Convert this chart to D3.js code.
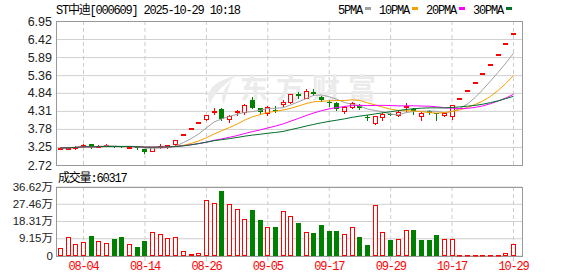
<!DOCTYPE html>
<html>
<head>
<meta charset="utf-8">
<script src="https://cdn.jsdelivr.net/npm/d3@7"></script>
<style>
body { margin: 0; background: #fff; }
svg { display: block; }
.mono { font-family: "Liberation Mono", "Noto Sans CJK SC", monospace; font-size: 12px; letter-spacing: -1.2px; }
.ax { font-family: "Liberation Sans", "Noto Sans CJK SC", sans-serif; fill: #222; }
</style>
</head>
<body>
<div id="chart"></div>
<script>
// trading days shown (07-30 .. 10-29)
const dates = ["07-30","07-31","08-01","08-04","08-05","08-06","08-07","08-08","08-11","08-12",
  "08-13","08-14","08-15","08-18","08-19","08-20","08-21","08-22","08-25","08-26",
  "08-27","08-28","08-29","09-01","09-02","09-03","09-04","09-05","09-08","09-09",
  "09-10","09-11","09-12","09-15","09-16","09-17","09-18","09-19","09-22","09-23",
  "09-24","09-25","09-26","09-29","09-30","10-09","10-10","10-13","10-14","10-15",
  "10-16","10-17","10-20","10-21","10-22","10-23","10-24","10-27","10-28","10-29"];

const opens = [3.22,3.22,3.21,3.29,3.33,3.27,3.29,3.28,3.27,3.22,
  3.24,3.18,3.14,3.27,3.27,3.33,3.62,3.80,3.99,4.06,
  4.28,4.37,4.08,4.27,4.27,4.62,4.38,4.25,4.35,4.50,
  4.57,4.80,4.70,4.86,4.71,4.58,4.54,4.31,4.41,4.49,
  4.14,3.95,4.13,4.23,4.18,4.41,4.37,4.15,4.31,4.24,
  4.18,4.15,4.69,4.92,5.17,5.43,5.70,5.99,6.29,6.60];
const closes = [3.22,3.23,3.26,3.31,3.24,3.29,3.30,3.26,3.25,3.26,
  3.21,3.10,3.24,3.29,3.30,3.45,3.62,3.80,3.99,4.19,
  4.31,4.08,4.17,4.30,4.49,4.40,4.28,4.43,4.33,4.58,
  4.81,4.74,4.89,4.82,4.62,4.55,4.37,4.42,4.55,4.38,
  4.10,4.15,4.23,4.21,4.27,4.44,4.31,4.26,4.25,4.22,
  4.26,4.47,4.69,4.92,5.17,5.43,5.70,5.99,6.29,6.60];
const highs = [3.24,3.24,3.27,3.35,3.34,3.31,3.33,3.29,3.28,3.27,
  3.25,3.20,3.25,3.33,3.32,3.46,3.62,3.80,3.99,4.19,
  4.40,4.40,4.19,4.35,4.50,4.71,4.40,4.45,4.44,4.62,
  4.82,4.86,4.95,4.94,4.75,4.62,4.56,4.45,4.58,4.50,
  4.19,4.16,4.25,4.24,4.33,4.55,4.40,4.28,4.35,4.25,
  4.27,4.47,4.69,4.92,5.17,5.43,5.70,5.99,6.29,6.60];
const lows = [3.20,3.21,3.20,3.25,3.22,3.24,3.28,3.25,3.24,3.21,
  3.20,3.08,3.12,3.21,3.23,3.32,3.62,3.80,3.99,4.03,
  4.22,4.05,3.99,4.20,4.21,4.38,4.25,4.20,4.28,4.44,
  4.54,4.70,4.68,4.78,4.60,4.45,4.35,4.26,4.38,4.36,
  4.05,3.91,4.05,4.19,4.15,4.30,4.23,4.05,4.22,4.05,
  4.15,4.07,4.69,4.92,5.17,5.43,5.70,5.99,6.29,6.60];
// volume in 万
const volumes = [3.8,9.6,6.1,7.3,10.3,7.6,6.4,8.7,9.6,5.9,
  4.3,7.6,12.4,11.2,9.1,9.6,2.4,0.8,1.2,29.6,
  28.0,34.0,27.1,24.9,19.6,24.0,18.7,14.9,15.0,23.4,
  21.2,17.3,12.4,11.9,16.1,13.1,13.1,11.3,14.9,9.7,
  5.5,26.6,12.4,8.2,9.0,13.4,13.4,8.2,8.2,10.8,
  9.0,8.7,0.5,0.4,0.5,0.4,0.5,0.5,1.5,6.03];

const priceTicks = [6.95,6.42,5.89,5.36,4.84,4.31,3.78,3.25,2.72];
const volTicks = [0,9.15,18.31,27.46,36.62];
const dateTicks = ["08-04","08-14","08-26","09-05","09-17","09-29","10-17","10-29"];
const maPeriods = [5,10,20,30];
const maColors = ["#a0a0a0","#f5a000","#ff00ff","#00702a"];

const title = "ST中迪[000609] 2025-10-29 10:18";
const volTitle = "成交量:60317";

const W = 578, H = 276;
const left = 56, right = 522;
const pTop = 21, pBot = 165, vTop = 186.5, vBot = 255.5;
const RED = "#ff0000", GREEN = "#008000";

const svg = d3.select("#chart").append("svg").attr("width", W).attr("height", H);

const x = d3.scaleLinear().domain([0, dates.length - 1]).range([60, 513]);
const yP = d3.scaleLinear().domain([2.72, 6.95]).range([pBot, pTop]);
const yV = d3.scaleLinear().domain([0, 36.62]).range([vBot, vTop]);
const tickIdx = dateTicks.map(d => dates.indexOf(d));

// horizontal grid
svg.append("g").attr("transform", `translate(${left},0)`)
  .call(d3.axisLeft(yP).tickValues(priceTicks).tickSize(-(right - left)).tickFormat(""))
  .call(g => g.select(".domain").remove())
  .selectAll("line").attr("stroke", "#d0d0d0");
svg.append("g").attr("transform", `translate(${left},0)`)
  .call(d3.axisLeft(yV).tickValues(volTicks).tickSize(-(right - left)).tickFormat(""))
  .call(g => g.select(".domain").remove())
  .selectAll("line").attr("stroke", "#d0d0d0");

// vertical dashed grid
svg.append("g").attr("transform", `translate(0,${pBot})`)
  .call(d3.axisBottom(x).tickValues(tickIdx).tickSize(-(pBot - pTop)).tickFormat(""))
  .call(g => g.select(".domain").remove())
  .selectAll("line").attr("stroke", "#cccccc").attr("stroke-dasharray", "4,3");
svg.append("g").attr("transform", `translate(0,261)`)
  .call(d3.axisBottom(x).tickValues(tickIdx).tickSize(-(261 - vTop)).tickFormat(""))
  .call(g => g.select(".domain").remove())
  .selectAll("line").attr("stroke", "#cccccc").attr("stroke-dasharray", "4,3");

// watermark
const wm = svg.append("g").attr("fill", "#ebebeb");
wm.append("path").attr("d", "M236,76 C214,80 204,92 210,104 C214,94 222,86 236,76 Z M232,80 C222,90 220,98 224,104 C226,96 228,88 232,80 Z");
wm.append("text").attr("x", 240).attr("y", 99)
  .attr("font-family", "Noto Sans CJK SC").attr("font-weight", "bold")
  .attr("font-size", 28).attr("letter-spacing", 8).text("东方财富");

// panel borders
[[pTop, pBot], [vTop, vBot]].forEach(([t, b]) => {
  svg.append("rect").attr("x", left + 0.5).attr("y", Math.round(t) + 0.5)
    .attr("width", right - left).attr("height", Math.round(b) - Math.round(t))
    .attr("fill", "none").attr("stroke", "#999");
});

// candles
const candles = svg.append("g");
dates.forEach((d, i) => {
  const cx = Math.round(x(i));
  const up = closes[i] >= opens[i];
  const col = up ? RED : GREEN;
  candles.append("line")
    .attr("x1", cx + 0.5).attr("x2", cx + 0.5)
    .attr("y1", Math.round(yP(highs[i]))).attr("y2", Math.round(yP(lows[i])) + 1)
    .attr("stroke", col);
  const t = Math.round(yP(Math.max(opens[i], closes[i])));
  const b = Math.round(yP(Math.min(opens[i], closes[i])));
  if (up) {
    candles.append("rect").attr("x", cx - 1.5).attr("y", t + 0.5)
      .attr("width", 4).attr("height", Math.max(1, b - t))
      .attr("fill", "#fff").attr("stroke", RED);
  } else {
    candles.append("rect").attr("x", cx - 2).attr("y", t)
      .attr("width", 5).attr("height", Math.max(1, b - t)).attr("fill", GREEN);
  }
});

// moving averages
const ma = n => closes.map((c, i) => d3.mean(closes.slice(Math.max(0, i - n + 1), i + 1)));
const line = d3.line().x((d, i) => x(i) + 0.5).y(d => yP(d));
maPeriods.forEach((n, k) => {
  svg.append("path").datum(ma(n)).attr("d", line)
    .attr("fill", "none").attr("stroke", maColors[k]).attr("stroke-width", 1);
});

// volume bars (colour by close vs previous close)
const vg = svg.append("g");
volumes.forEach((v, i) => {
  const cx = Math.round(x(i));
  const up = i === 0 ? closes[i] >= opens[i] : closes[i] >= closes[i - 1];
  const t = Math.round(yV(v));
  const b = Math.round(yV(0));
  if (up) {
    vg.append("rect").attr("x", cx - 1.5).attr("y", t + 0.5)
      .attr("width", 4).attr("height", Math.max(0.5, b - t - 1))
      .attr("fill", "#fff").attr("stroke", RED);
  } else {
    vg.append("rect").attr("x", cx - 2).attr("y", t)
      .attr("width", 5).attr("height", b - t).attr("fill", GREEN);
  }
});

// y axis labels
svg.append("g").attr("transform", `translate(${left},0)`)
  .call(d3.axisLeft(yP).tickValues(priceTicks).tickSize(0).tickPadding(4).tickFormat(d3.format(".2f")))
  .call(g => g.select(".domain").remove())
  .selectAll("text").attr("class", "ax").attr("font-size", 12.5).attr("fill", "#222");
svg.append("g").attr("transform", `translate(${left},0)`)
  .call(d3.axisLeft(yV).tickValues(volTicks).tickSize(0).tickPadding(3)
    .tickFormat(d => d === 0 ? "0" : d3.format(".2f")(d) + "万"))
  .call(g => g.select(".domain").remove())
  .selectAll("text").attr("class", "ax").attr("font-size", 11.5).attr("fill", "#222");

// date labels
svg.append("g").attr("transform", `translate(0,${vBot})`)
  .call(d3.axisBottom(x).tickValues(tickIdx).tickSize(0).tickPadding(6).tickFormat(i => dates[i]))
  .call(g => g.select(".domain").remove())
  .selectAll("text").attr("class", "mono").attr("fill", RED).attr("font-family", null).attr("font-size", null);

// title and volume caption
svg.append("text").attr("class", "mono").attr("x", left).attr("y", 14).attr("fill", "#000").text(title);
svg.append("text").attr("class", "mono").attr("x", left + 2).attr("y", 182).attr("fill", "#000").text(volTitle);

// legend
let lx = 338;
maPeriods.forEach((n, k) => {
  const label = n + "PMA";
  svg.append("text").attr("class", "mono").attr("x", lx).attr("y", 14).attr("fill", "#000").text(label);
  lx += label.length * 6 + 3;
  svg.append("rect").attr("x", lx).attr("y", 7).attr("width", 6).attr("height", 3).attr("fill", maColors[k]);
  lx += 14;
});
</script>
</body>
</html>
